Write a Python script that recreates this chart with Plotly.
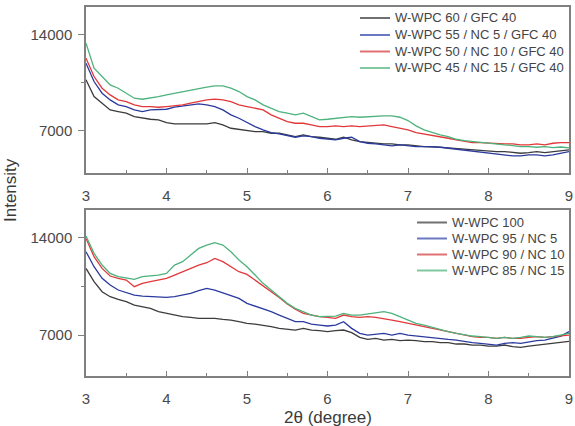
import numpy as np
import plotly.graph_objects as go

# 2-theta sampling grid (degrees)
two_theta = np.round(np.linspace(3, 9, 61), 2)

# ---- Top panel (with GFC 40) ----
top_names = ["W-WPC 60 / GFC 40", "W-WPC 55 / NC 5 / GFC 40",
             "W-WPC 50 / NC 10 / GFC 40", "W-WPC 45 / NC 15 / GFC 40"]
top_black = [10720, 9504, 9018, 8532, 8411, 8290, 8046, 7925, 7852, 7803,
             7609, 7512, 7512, 7488, 7512, 7512, 7609, 7439, 7196, 7123,
             7075, 6953, 6953, 6832, 6832, 6710, 6589, 6710, 6589, 6540,
             6467, 6394, 6540, 6346, 6224, 6151, 6103, 6054, 6054, 5981,
             5981, 5908, 5860, 5860, 5811, 5811, 5738, 5665, 5617, 5568,
             5568, 5495, 5495, 5422, 5374, 5422, 5495, 5422, 5495, 5568, 5617]
top_blue = [11935, 10598, 9747, 9261, 8897, 8776, 8532, 8411, 8532, 8532,
            8581, 8727, 8824, 8897, 8970, 8897, 8776, 8532, 8168, 7925,
            7609, 7318, 7075, 6880, 6783, 6637, 6540, 6637, 6589, 6467,
            6394, 6346, 6467, 6540, 6224, 6103, 6054, 5981, 5908, 5981,
            5908, 5860, 5860, 5860, 5811, 5738, 5665, 5617, 5495, 5422,
            5374, 5325, 5252, 5179, 5179, 5252, 5252, 5179, 5252, 5374, 5495]
top_red = [12299, 10962, 10112, 9626, 9261, 9140, 8897, 8776, 8776, 8727,
           8776, 8824, 8897, 9018, 9140, 9261, 9310, 9261, 9140, 8897,
           8776, 8654, 8532, 8168, 7925, 7682, 7560, 7560, 7439, 7318,
           7318, 7366, 7318, 7366, 7318, 7366, 7366, 7439, 7318, 7196,
           7075, 6880, 6783, 6710, 6589, 6467, 6346, 6224, 6151, 6151,
           6103, 6103, 6054, 6054, 5981, 5981, 6054, 5981, 6103, 6151, 6151]
top_green = [13392, 11570, 10962, 10355, 10112, 9747, 9383, 9310, 9383, 9504,
             9626, 9747, 9869, 9990, 10112, 10185, 10282, 10282, 10112, 9869,
             9504, 9261, 8897, 8654, 8411, 8290, 8168, 8290, 8046, 7803,
             7852, 7925, 7998, 8046, 7998, 8046, 8046, 8095, 8095, 7998,
             7755, 7366, 7075, 6880, 6710, 6589, 6394, 6297, 6224, 6151,
             6103, 6054, 5981, 5932, 5860, 5860, 5811, 5860, 5790, 5830, 5760]

# ---- Bottom panel (without GFC) ----
bot_names = ["W-WPC 100", "W-WPC 95 / NC 5", "W-WPC 90 / NC 10", "W-WPC 85 / NC 15"]
bot_black = [11780, 10825, 10109, 9751, 9560, 9393, 9154, 9035, 8916, 8677,
             8558, 8438, 8319, 8271, 8200, 8200, 8200, 8128, 8080, 7961,
             7842, 7794, 7722, 7603, 7484, 7412, 7364, 7484, 7364, 7316,
             7245, 7316, 7364, 7173, 6839, 6696, 6767, 6648, 6696, 6600,
             6648, 6600, 6529, 6529, 6457, 6457, 6362, 6362, 6290, 6290,
             6218, 6218, 6290, 6171, 6123, 6218, 6290, 6362, 6409, 6457, 6550]
bot_blue = [12974, 11899, 11064, 10587, 10229, 10038, 9871, 9799, 9751, 9703,
            9703, 9751, 9871, 9990, 10181, 10348, 10229, 10038, 9871, 9632,
            9274, 9083, 8916, 8677, 8438, 8200, 7961, 7961, 7794, 7722,
            7651, 7722, 7961, 7484, 7125, 7006, 7078, 7125, 7006, 7125,
            7006, 6935, 6887, 6839, 6767, 6696, 6648, 6529, 6457, 6409,
            6362, 6290, 6409, 6457, 6409, 6529, 6600, 6648, 6767, 6935, 7245]
bot_red = [13928, 12616, 11780, 11231, 11064, 10945, 10467, 10706, 10825, 10945,
           11064, 11303, 11541, 11780, 12019, 12186, 12496, 12258, 11899, 11541,
           11350, 10950, 10500, 10100, 9700, 9230, 8850, 8558, 8438, 8319,
           8271, 8200, 8438, 8319, 8271, 8319, 8271, 8200, 8080, 7961,
           7842, 7722, 7603, 7484, 7364, 7245, 7125, 7006, 6887, 6839,
           6839, 6767, 6839, 6767, 6767, 6839, 6887, 6839, 6887, 6935, 7006]
bot_green = [14095, 12854, 12019, 11422, 11183, 11064, 10992, 11183, 11231, 11303,
             11422, 12019, 12258, 12735, 13212, 13451, 13618, 13451, 12974, 12377,
             11899, 11303, 10706, 10229, 9751, 9274, 8916, 8677, 8438, 8319,
             8319, 8367, 8558, 8438, 8438, 8510, 8605, 8677, 8558, 8319,
             8080, 7842, 7722, 7555, 7412, 7245, 7125, 7006, 6935, 6887,
             6839, 6767, 6839, 6767, 6839, 6935, 6887, 6839, 6887, 7006, 7125]

colors = ["#3c3c3c", "#2b3a9e", "#e2383a", "#4db27c"]
legend_line_colors = ["#707070", "#6a78c0", "#e07070", "#80c8a0"]

fig = go.Figure()
for name, ys, c in zip(top_names, [top_black, top_blue, top_red, top_green], colors):
    fig.add_trace(go.Scatter(x=two_theta, y=ys, name=name, mode="lines",
                             line=dict(color=c, width=1.3),
                             xaxis="x", yaxis="y", showlegend=False))
for name, ys, c in zip(bot_names, [bot_black, bot_blue, bot_red, bot_green], colors):
    fig.add_trace(go.Scatter(x=two_theta, y=ys, name=name, mode="lines",
                             line=dict(color=c, width=1.3),
                             xaxis="x2", yaxis="y2", showlegend=False))

axcol = "#808080"
FONT = "Liberation Sans, Arial, sans-serif"
tickfont = dict(family=FONT, size=15, color="#4a4a4a")

def xax(anchor):
    return dict(domain=[0, 1], anchor=anchor, range=[3, 9],
                tickvals=[3, 4, 5, 6, 7, 8, 9], ticks="inside", ticklen=5,
                tickcolor=axcol, tickwidth=1.3, ticklabelstandoff=8,
                minor=dict(tickvals=[3.5, 4.5, 5.5, 6.5, 7.5, 8.5], ticks="inside",
                           ticklen=3, tickcolor=axcol),
                showline=True, linecolor=axcol, linewidth=1.5, mirror=True,
                showgrid=False, zeroline=False, tickfont=tickfont)

def yax(anchor, dom, rng):
    return dict(domain=dom, anchor=anchor, range=rng,
                tickvals=[7000, 14000], ticktext=["7000", "14000"],
                ticks="outside", ticklen=6, ticklabelstandoff=3,
                tickcolor=axcol, tickwidth=1.3,
                minor=dict(tickvals=[10500], ticks="outside", ticklen=3, tickcolor=axcol),
                showline=True, linecolor=axcol, linewidth=1.5, mirror=True,
                showgrid=False, zeroline=False, tickfont=tickfont)

# Manual legends (paper coordinates from pixel layout)
W, H, L = 575, 426, 86
PW = W - L - 6

def px2x(px):
    return (px - L) / PW

def py2y(py):
    return 1 - py / H

legfont = dict(family=FONT, size=13, color="#444444")
shapes, annotations = [], []
legend_specs = [
    (top_names, 360, 390, 393, [18, 35, 51.5, 68]),
    (bot_names, 417, 447, 450, [222.5, 238.5, 254.5, 270.5]),
]
for names, lx0, lx1, tx, rows in legend_specs:
    for name, c, py in zip(names, legend_line_colors, rows):
        shapes.append(dict(type="line", xref="paper", yref="paper",
                           x0=px2x(lx0), x1=px2x(lx1), y0=py2y(py), y1=py2y(py),
                           line=dict(color=c, width=2)))
        annotations.append(dict(text=name, xref="paper", yref="paper",
                                x=px2x(tx), y=py2y(py), xanchor="left", yanchor="middle",
                                showarrow=False, font=legfont))

annotations += [
    dict(text="Intensity", xref="paper", yref="paper", x=px2x(10), y=py2y(190),
         xanchor="center", yanchor="middle", textangle=-90, showarrow=False,
         font=dict(family=FONT, size=17, color="#3a3a3a")),
    dict(text="2θ (degree)", xref="paper", yref="paper", x=0.5, y=py2y(417),
         xanchor="center", yanchor="middle", showarrow=False,
         font=dict(family=FONT, size=17, color="#3a3a3a")),
]

fig.update_layout(
    width=W, height=H,
    margin=dict(l=L, r=6, t=0, b=0),
    paper_bgcolor="white", plot_bgcolor="white",
    xaxis=xax("y"),
    yaxis=yax("x", [0.594, 0.984], [3940, 16040]),
    xaxis2=xax("y2"),
    yaxis2=yax("x2", [0.117, 0.507], [4060, 15960]),
    showlegend=False,
    shapes=shapes,
    annotations=annotations,
)

fig.write_html("out.html")
